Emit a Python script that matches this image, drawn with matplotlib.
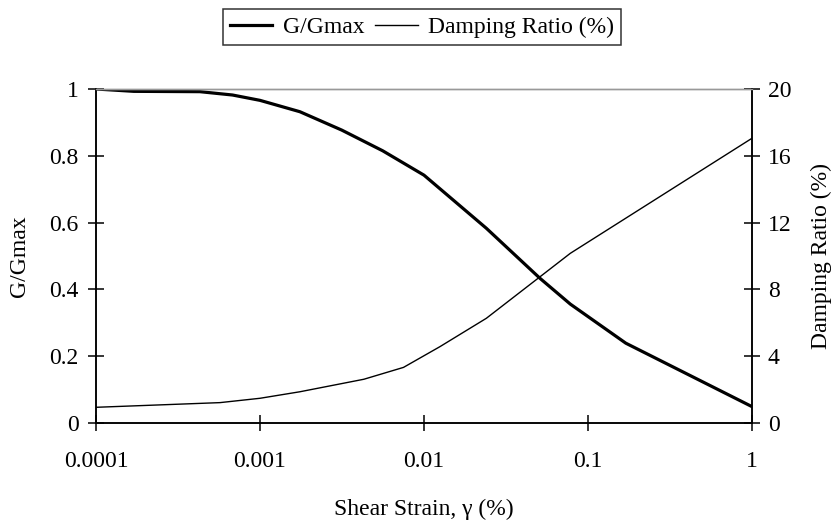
import matplotlib
matplotlib.use('Agg')
from matplotlib import pyplot as plt
from matplotlib.ticker import FixedLocator, FixedFormatter, NullLocator

# data
strain_g = [0.0001, 0.00017, 0.00043, 0.00068, 0.001, 0.00175, 0.00315,
            0.0056, 0.01, 0.024, 0.051, 0.078, 0.17, 1.0]
g_ratio = [1.0, 0.993, 0.992, 0.982, 0.966, 0.932, 0.877,
           0.815, 0.742, 0.583, 0.433, 0.356, 0.239, 0.049]

strain_d = [0.0001, 0.00057, 0.001, 0.00175, 0.00315, 0.0043, 0.0075,
            0.0125, 0.024, 0.078, 1.0]
damping = [0.94, 1.22, 1.48, 1.87, 2.36, 2.62, 3.33,
           4.57, 6.27, 10.16, 17.05]

x_ticks = [0.0001, 0.001, 0.01, 0.1, 1]
x_labels = ['0.0001', '0.001', '0.01', '0.1', '1']
left_ticks = [0, 0.2, 0.4, 0.6, 0.8, 1]
left_labels = ['0', '0.2', '0.4', '0.6', '0.8', '1']
right_ticks = [0, 4, 8, 12, 16, 20]

plt.rcParams['font.family'] = ['Liberation Serif', 'DejaVu Serif']
fs = 17

fig = plt.figure(figsize=(8.33, 5.2), dpi=100)
ax = fig.add_axes([96 / 833, 1 - 423 / 520, 656 / 833, 334 / 520])
ax2 = ax.twinx()

l1, = ax.plot(strain_g, g_ratio, color='black', lw=2.3, label='G/Gmax')
l2, = ax2.plot(strain_d, damping, color='black', lw=1.0,
               label='Damping Ratio (%)')

ax.set_xscale('log')
ax.set_xlim(0.0001, 1)
ax.set_ylim(0, 1)
ax2.set_ylim(0, 20)

ax.xaxis.set_major_locator(FixedLocator(x_ticks))
ax.xaxis.set_major_formatter(FixedFormatter(x_labels))
ax.xaxis.set_minor_locator(NullLocator())
ax.set_yticks(left_ticks)
ax.set_yticklabels(left_labels)
ax2.set_yticks(right_ticks)
ax2.set_yticklabels([str(t) for t in right_ticks])

for a in (ax, ax2):
  a.tick_params(direction='inout', length=11, width=1.1, labelsize=fs,
                colors='black')
  for s in a.spines.values():
    s.set_linewidth(1.1)
  a.spines['top'].set_color('#999999')
  a.spines['top'].set_linewidth(1.0)
ax.tick_params(axis='x', pad=15)
ax.tick_params(axis='y', pad=7)
ax2.tick_params(axis='y', pad=6)

ax.set_xlabel('Shear Strain, γ (%)', fontsize=fs, labelpad=19)
ax.set_ylabel('G/Gmax', fontsize=fs, labelpad=14)
ax2.set_ylabel('Damping Ratio (%)', fontsize=fs, labelpad=14)

leg = fig.legend([l1, l2], ['G/Gmax', 'Damping Ratio (%)'],
                 loc='center', bbox_to_anchor=(422 / 833, 1 - 27 / 520),
                 ncol=2, frameon=True, fancybox=False, fontsize=fs,
                 handlelength=1.8, handletextpad=0.45, columnspacing=0.45,
                 borderpad=0.3, borderaxespad=0)
leg.get_frame().set_edgecolor('black')
leg.get_frame().set_linewidth(1.1)

fig.savefig('out.png', dpi=100)
